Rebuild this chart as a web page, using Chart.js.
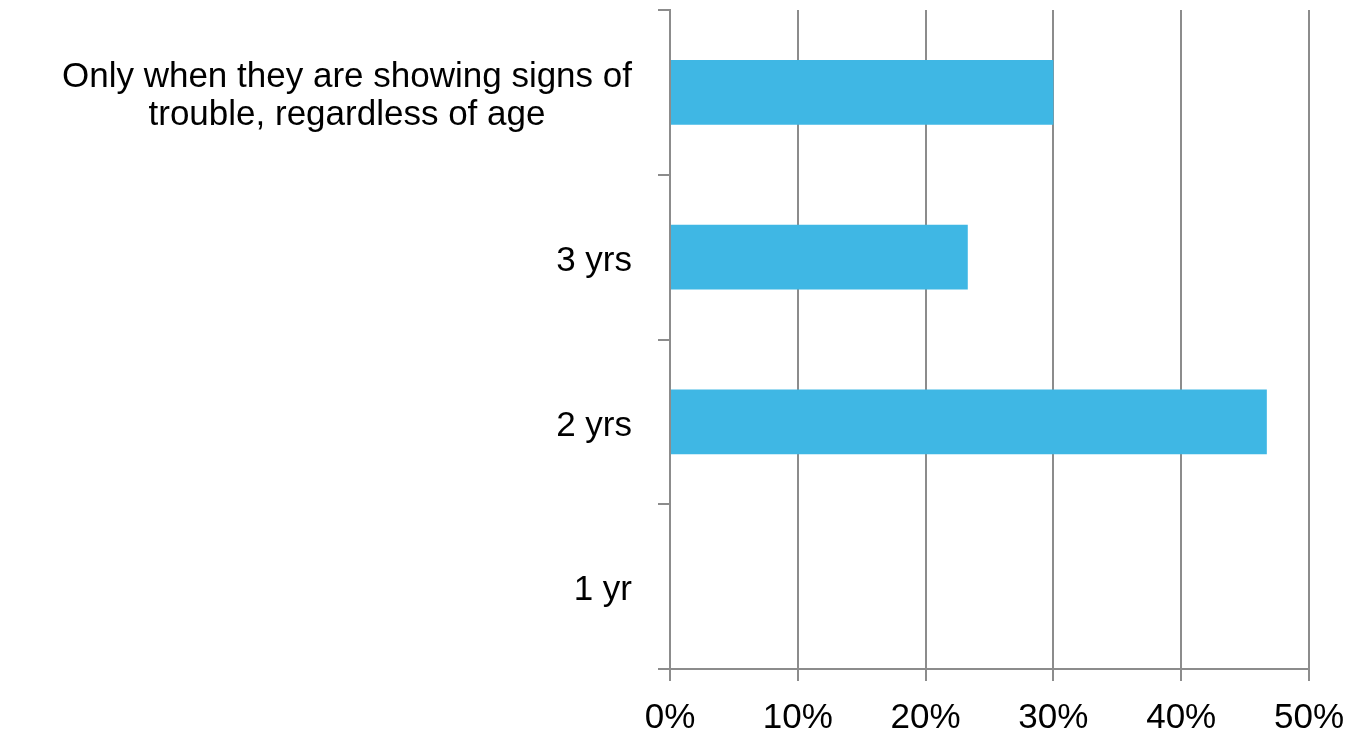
<!DOCTYPE html>
<html>
<head>
<meta charset="utf-8">
<script src="https://cdn.jsdelivr.net/npm/chart.js@4/dist/chart.umd.min.js"></script>
<style>
  html, body { margin: 0; padding: 0; background: #ffffff; }
  #wrap { width: 1356px; height: 734px; position: relative; }
</style>
</head>
<body>
<div id="wrap"><canvas id="c" width="1356" height="734"></canvas></div>
<script>
const categories = [
  ["Only when they are showing signs of", "trouble, regardless of age"],
  "3 yrs",
  "2 yrs",
  "1 yr"
];
const shares = [30, 23.3, 46.7, 0];
const xTicks = [0, 10, 20, 30, 40, 50];

const gridColor = '#8c8c8c';
const barColor = '#3fb7e4';
const fontFamily = "'Liberation Sans', Arial, sans-serif";
const labelShiftY = 4;

// Center multi-line category labels on themselves, block right-aligned to axis
const centerMultiline = {
  id: 'centerMultiline',
  beforeDraw(chart) {
    const scale = chart.scales.y;
    const items = scale.getLabelItems();
    const ctx = chart.ctx;
    items.forEach(it => {
      let [tx, ty] = it.options.translation;
      if (Array.isArray(it.label)) {
        ctx.save();
        ctx.font = it.font.string;
        const w = Math.max(...it.label.map(l => ctx.measureText(l).width));
        ctx.restore();
        it.options.textAlign = 'center';
        tx -= w / 2;
      }
      it.options.translation = [tx, ty + labelShiftY];
    });
  }
};

new Chart(document.getElementById('c'), {
  type: 'bar',
  data: {
    labels: categories,
    datasets: [{
      data: shares,
      backgroundColor: barColor,
      borderWidth: 0,
      categoryPercentage: 1,
      barPercentage: 0.394
    }]
  },
  plugins: [centerMultiline],
  options: {
    indexAxis: 'y',
    responsive: false,
    animation: false,
    layout: { padding: { top: 10, right: 47, left: 0, bottom: 0 } },
    plugins: { legend: { display: false }, tooltip: { enabled: false } },
    scales: {
      x: {
        min: 0,
        max: 50,
        afterBuildTicks(scale) { scale.ticks = xTicks.map(v => ({ value: v })); },
        ticks: {
          callback: v => v + '%',
          color: '#000000',
          font: { family: fontFamily, size: 35 },
          padding: 16,
          maxRotation: 0
        },
        grid: { color: gridColor, lineWidth: 2, tickLength: 12, drawTicks: true },
        border: { display: true, color: gridColor, width: 2 },
        afterFit(scale) { scale.height = 65; scale.paddingLeft = 0; scale.paddingRight = 0; }
      },
      y: {
        offset: true,
        ticks: {
          color: '#000000',
          font: { family: fontFamily, size: 35, lineHeight: 1.1 },
          padding: 26,
          autoSkip: false
        },
        grid: { offset: true, drawOnChartArea: false, color: gridColor, lineWidth: 2, tickLength: 12 },
        border: { display: true, color: gridColor, width: 2 },
        afterFit(scale) { scale.width = 670; scale.paddingTop = 0; scale.paddingBottom = 0; }
      }
    }
  }
});
</script>
</body>
</html>
